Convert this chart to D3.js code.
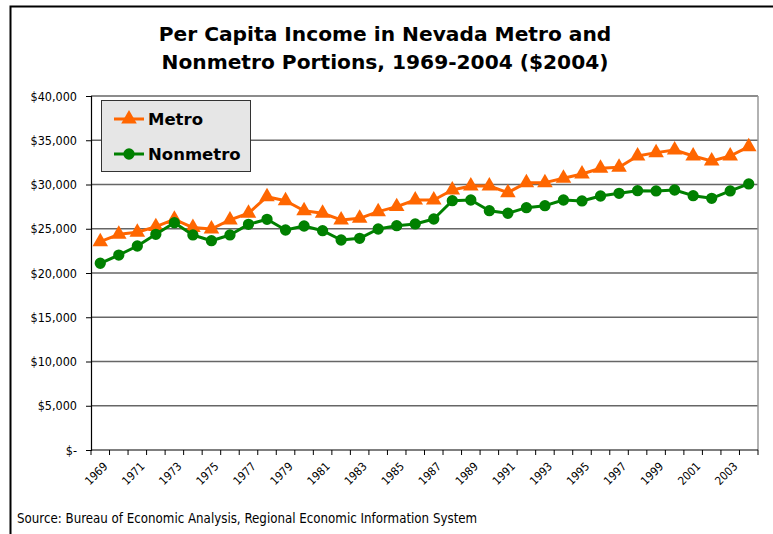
<!DOCTYPE html>
<html>
<head>
<meta charset="utf-8">
<script src="https://cdn.jsdelivr.net/npm/d3@7"></script>
<style>
  body { margin: 0; background: #fff; }
  svg { display: block; font-family: "DejaVu Sans", Verdana, sans-serif; }
</style>
</head>
<body>
<svg id="chart" width="773" height="534"></svg>
<script>
"use strict";

// ===== Data =====
const years = d3.range(1969, 2005);
const metro = [
  23540, 24370, 24600, 25240, 26070, 25130, 24970, 26000, 26750, 28620,
  28170, 27040, 26750, 26000, 26180, 26930, 27500, 28250, 28250, 29380,
  29830, 29830, 29080, 30210, 30210, 30700, 31190, 31830, 31940, 33220,
  33600, 33900, 33220, 32660, 33220, 34270
];
const nonmetro = [
  21100, 22030, 23050, 24370, 25690, 24300, 23650, 24300, 25500, 26070,
  24860, 25310, 24780, 23730, 23920, 24970, 25350, 25540, 26100, 28170,
  28250, 27040, 26750, 27380, 27610, 28250, 28140, 28700, 29000, 29300,
  29270, 29380, 28740, 28440, 29270, 30060
];
const yTicks = [0, 5000, 10000, 15000, 20000, 25000, 30000, 35000, 40000];
const xLabelYears = years.filter(y => (y - 1969) % 2 === 0 && y < 2004);
const titleLines = [
  "Per Capita Income in Nevada Metro and",
  "Nonmetro Portions, 1969-2004 ($2004)"
];
const sourceText = "Source: Bureau of Economic Analysis, Regional Economic Information System";

const series = [
  { name: "Metro",    values: metro,    color: "#ff6600", symbol: d3.symbolTriangle, size: 105 },
  { name: "Nonmetro", values: nonmetro, color: "#008000", symbol: d3.symbolCircle,   size: 100 }
];

// ===== Layout =====
const svg = d3.select("#chart");
const plot = { left: 91, right: 758, top: 96, bottom: 450 };
const condensed = "'DejaVu Sans Condensed', 'DejaVu Sans', sans-serif";

// outer frame (cut off at right/bottom like the original)
svg.append("rect")
  .attr("x", 10.5).attr("y", 6.5)
  .attr("width", 900).attr("height", 700)
  .attr("fill", "#fff")
  .attr("stroke", "#000")
  .attr("stroke-width", 2);

// Title
svg.append("g").selectAll("text")
  .data(titleLines)
  .join("text")
  .attr("x", 385)
  .attr("y", (d, i) => 41 + i * 28)
  .attr("text-anchor", "middle")
  .attr("font-size", 20.2)
  .attr("font-weight", "bold")
  .attr("fill", "#000")
  .text(d => d);

// ===== Scales =====
const x = d3.scaleBand().domain(years).range([plot.left, plot.right]);
const cx = yr => x(yr) + x.bandwidth() / 2;
const y = d3.scaleLinear().domain([0, 40000]).range([plot.bottom, plot.top]);

// Gridlines
svg.append("g").selectAll("line")
  .data(yTicks.filter(d => d > 0))
  .join("line")
  .attr("x1", plot.left).attr("x2", plot.right)
  .attr("y1", d => y(d)).attr("y2", d => y(d))
  .attr("stroke", "#666")
  .attr("stroke-width", 1.5);

// Plot right border
svg.append("line")
  .attr("x1", plot.right).attr("x2", plot.right)
  .attr("y1", plot.top).attr("y2", plot.bottom)
  .attr("stroke", "#999").attr("stroke-width", 1.5);

// Y axis
const yAxis = d3.axisLeft(y)
  .tickValues(yTicks)
  .tickSize(5)
  .tickPadding(9)
  .tickFormat(d => d === 0 ? "$-" : "$" + d3.format(",")(d));
const yg = svg.append("g")
  .attr("transform", `translate(${plot.left},0)`)
  .call(yAxis);
yg.select(".domain").attr("stroke", "#000").attr("stroke-width", 1.2);
yg.selectAll(".tick line").attr("stroke", "#000");
yg.selectAll("text")
  .attr("font-size", 12.5)
  .attr("font-family", condensed)
  .attr("fill", "#000");

// X axis (category boundaries as ticks)
const boundaries = years.map(yr => x(yr)).concat([plot.right]);
const xg = svg.append("g");
xg.append("line")
  .attr("x1", plot.left).attr("x2", plot.right)
  .attr("y1", plot.bottom).attr("y2", plot.bottom)
  .attr("stroke", "#000").attr("stroke-width", 1.2);
xg.selectAll("line.tick")
  .data(boundaries)
  .join("line")
  .attr("class", "tick")
  .attr("x1", d => d).attr("x2", d => d)
  .attr("y1", plot.bottom).attr("y2", plot.bottom + 5)
  .attr("stroke", "#000");
xg.selectAll("text")
  .data(xLabelYears)
  .join("text")
  .attr("transform", d => `translate(${cx(d) + 2},${plot.bottom + 11}) rotate(-45)`)
  .attr("text-anchor", "end")
  .attr("dy", "0.75em")
  .attr("font-size", 11.5)
  .attr("font-family", condensed)
  .attr("fill", "#000")
  .text(d => d);

// ===== Lines & markers =====
const line = d3.line()
  .x((d, i) => cx(years[i]))
  .y(d => y(d));

series.forEach(s => {
  const g = svg.append("g");
  g.append("path")
    .datum(s.values)
    .attr("d", line)
    .attr("fill", "none")
    .attr("stroke", s.color)
    .attr("stroke-width", 3)
    .attr("stroke-linejoin", "round");
  g.selectAll("path.mark")
    .data(s.values)
    .join("path")
    .attr("class", "mark")
    .attr("transform", (d, i) => `translate(${cx(years[i])},${y(d)})`)
    .attr("d", d3.symbol().type(s.symbol).size(s.size))
    .attr("fill", s.color);
});

// ===== Legend =====
const legend = svg.append("g").attr("transform", "translate(101,100)");
legend.append("rect")
  .attr("x", 0.5).attr("y", 0.5)
  .attr("width", 149).attr("height", 71)
  .attr("fill", "#e6e6e6")
  .attr("stroke", "#333")
  .attr("stroke-width", 1);
series.forEach((s, i) => {
  const ly = 19 + i * 35;
  legend.append("line")
    .attr("x1", 13).attr("x2", 43)
    .attr("y1", ly).attr("y2", ly)
    .attr("stroke", s.color).attr("stroke-width", 3);
  legend.append("path")
    .attr("transform", `translate(28,${ly})`)
    .attr("d", d3.symbol().type(s.symbol).size(s.size))
    .attr("fill", s.color);
  legend.append("text")
    .attr("x", 47).attr("y", ly + 6)
    .attr("font-size", 16.5)
    .attr("font-weight", "bold")
    .attr("fill", "#000")
    .text(s.name);
});

// ===== Source =====
svg.append("text")
  .attr("x", 17).attr("y", 523)
  .attr("font-size", 13.2)
  .attr("font-family", condensed)
  .attr("fill", "#000")
  .text(sourceText);
</script>
</body>
</html>
